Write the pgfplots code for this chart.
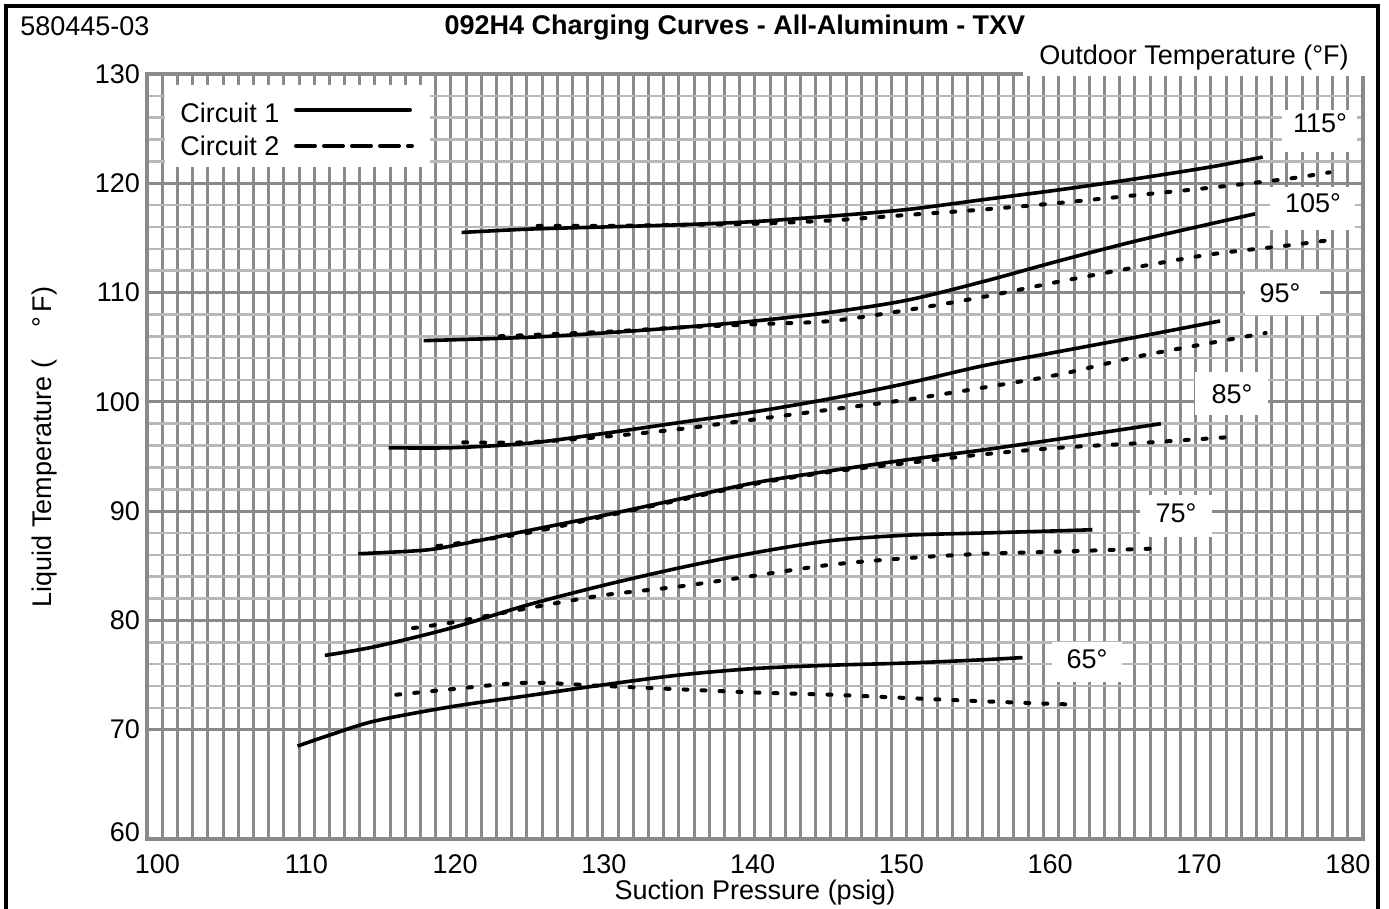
\documentclass[border=0pt]{standalone}
\usepackage{fontspec}
\setmainfont{Liberation Sans}
\usepackage{pgfplots}
\pgfplotsset{compat=1.18}
\definecolor{gridv}{HTML}{8A8A8A}
\definecolor{gridh}{HTML}{B8B8B8}
\newcommand{\fs}{\fontsize{13.5}{16}\selectfont}
\begin{document}
\begin{tikzpicture}
\useasboundingbox (0pt,0pt) rectangle (694.5pt,454.5pt);
\begin{axis}[
  at={(73.5pt,35pt)}, anchor=south west,
  scale only axis, width=608pt, height=382.5pt,
  xmin=100, xmax=180, ymin=60, ymax=130,
  xtick={100,110,...,180}, xticklabels={},
  ytick={70,80,...,130},
  minor x tick num=9, minor y tick num=4,
  extra x ticks={100.69,110.48,120.27,130.06,139.85,149.63,159.42,169.21,179.0},
  extra x tick labels={100,110,120,130,140,150,160,170,180},
  extra x tick style={grid=none, xticklabel style={yshift=-4.5pt}},
  extra y ticks={60.65},
  extra y tick labels={60},
  extra y tick style={grid=none},
  grid=both,
  major tick length=0pt, minor tick length=0pt,
  major x grid style={gridv, line width=1.5pt},
  minor x grid style={gridv, line width=1.5pt},
  major y grid style={gridv, line width=1.5pt},
  minor y grid style={gridh, line width=1.3pt},
  axis line style={gridv, line width=1.6pt},
  tick label style={font=\fs},
  /pgf/number format/assume math mode=true,
  c1/.style={black, line width=1.8pt, smooth},
  c2/.style={black, line width=2pt, line cap=round, dash pattern=on 2pt off 7pt, smooth},
]
% 115
\addplot[c1] coordinates {(120.7,115.5)(125,115.8)(130,116.0)(135,116.2)(140,116.5)(145,117.0)(150,117.6)(155,118.5)(160,119.4)(165,120.4)(170,121.5)(173.4,122.4)};
\addplot[c2] coordinates {(125.7,116.1)(130,116.1)(135,116.2)(140,116.3)(145,116.6)(150,117.1)(155,117.6)(160,118.2)(165,118.9)(170,119.6)(175,120.4)(177.8,121.0)};
% 105
\addplot[c1] coordinates {(118.2,105.6)(125,105.9)(130,106.3)(135,106.8)(140,107.4)(145,108.2)(150,109.3)(155,111.0)(160,112.9)(165,114.7)(170,116.3)(172.9,117.2)};
\addplot[c2] coordinates {(123.2,106.0)(130,106.4)(135,106.8)(140,107.1)(145,107.4)(150,108.4)(155,109.6)(160,111.0)(165,112.3)(170,113.5)(175,114.3)(177.8,114.8)};
% 95
\addplot[c1] coordinates {(115.9,95.8)(120,95.8)(125,96.2)(130,97.1)(135,98.1)(140,99.1)(145,100.3)(150,101.7)(155,103.3)(160,104.6)(165,105.9)(170.6,107.4)};
\addplot[c2] coordinates {(120.8,96.3)(125,96.3)(130,96.8)(135,97.5)(140,98.4)(145,99.3)(150,100.2)(155,101.3)(160,102.5)(165,104.1)(170,105.4)(173.6,106.3)};
% 85
\addplot[c1] coordinates {(113.9,86.1)(118,86.4)(120,86.8)(125,88.2)(130,89.6)(135,91.1)(140,92.6)(145,93.7)(150,94.7)(155,95.6)(160,96.6)(166.7,98.0)};
\addplot[c2] coordinates {(119.1,86.8)(125,88.0)(130,89.5)(135,91.0)(140,92.5)(145,93.6)(150,94.4)(155,95.2)(160,95.8)(165,96.2)(171.5,96.8)};
% 75
\addplot[c1] coordinates {(111.7,76.8)(115,77.6)(120,79.3)(125,81.4)(130,83.2)(135,84.8)(140,86.2)(145,87.3)(150,87.8)(155,88.0)(160,88.2)(162.2,88.3)};
\addplot[c2] coordinates {(117.5,79.3)(120,79.8)(125,81.1)(130,82.3)(135,83.1)(140,84.1)(145,85.1)(150,85.7)(155,86.1)(160,86.3)(166.8,86.6)};
% 65
\addplot[c1] coordinates {(109.9,68.5)(112,69.5)(115,70.8)(120,72.1)(125,73.1)(130,74.1)(135,75.0)(140,75.6)(145,75.9)(150,76.1)(155,76.4)(157.6,76.6)};
\addplot[c2] coordinates {(116.4,73.2)(120,73.7)(125,74.3)(130,74.0)(135,73.7)(140,73.4)(145,73.2)(150,72.9)(155,72.6)(160.9,72.3)};
\end{axis}
% white boxes
\fill[white] (82.5pt,371pt) rectangle (215pt,412pt);
\fill[white] (511.5pt,416.5pt) rectangle (684pt,440pt);
\fill[white] (641pt,378.5pt) rectangle (678.5pt,399.5pt);
\fill[white] (635pt,339.5pt) rectangle (677.5pt,361pt);
\fill[white] (622.5pt,297pt) rectangle (660pt,318.5pt);
\fill[white] (597.5pt,247pt) rectangle (634pt,268.5pt);
\fill[white] (570pt,186pt) rectangle (606pt,207pt);
\fill[white] (526pt,113.5pt) rectangle (561pt,133.5pt);
% legend
\node[anchor=west, inner sep=0pt, font=\fs] at (90pt,398pt) {Circuit 1};
\node[anchor=west, inner sep=0pt, font=\fs] at (90pt,381.5pt) {Circuit 2};
\draw[black, line width=2pt, line cap=round] (148pt,399.5pt) -- (205pt,399.5pt);
\draw[black, line width=2pt, line cap=round, dash pattern=on 9.5pt off 4.5pt] (148pt,381.5pt) -- (206pt,381.5pt);
% labels
\node[font=\fs] at (660pt,393pt) {115°};
\node[font=\fs] at (656.5pt,353pt) {105°};
\node[font=\fs] at (640pt,308pt) {95°};
\node[font=\fs] at (616pt,257.5pt) {85°};
\node[font=\fs] at (588pt,198pt) {75°};
\node[font=\fs] at (543.5pt,124.75pt) {65°};
\node[font=\fs, anchor=base, inner sep=0pt] at (597pt,422pt) {Outdoor Temperature (°F)};
\node[font=\fs, anchor=base west, inner sep=0pt] at (10pt,436.5pt) {580445-03};
\node[font=\fs\bfseries, anchor=base, inner sep=0pt] at (367.5pt,437pt) {092H4 Charging Curves - All-Aluminum - TXV};
\node[font=\fs, anchor=base, inner sep=0pt] at (377.5pt,4.5pt) {Suction Pressure (psig)};
\node[font=\fs, rotate=90] at (22.5pt,231pt) {Liquid Temperature (\hspace{1.2em}°\,F)};
% frame
\draw[black, line width=1.6pt] (3pt,-2pt) -- (3pt,451.5pt) -- (689pt,451.5pt) -- (689pt,-2pt);
\end{tikzpicture}
\end{document}
